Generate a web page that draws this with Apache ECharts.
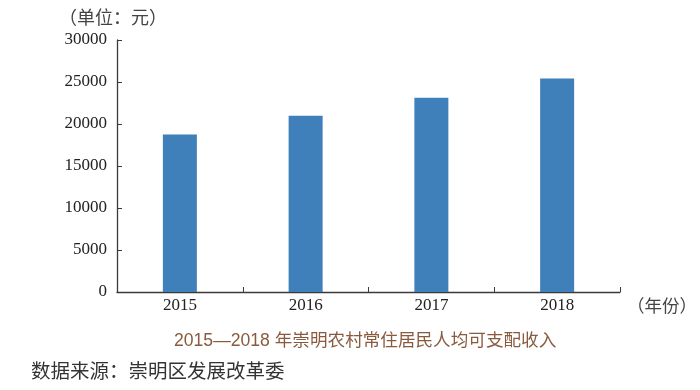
<!DOCTYPE html>
<html><head><meta charset="utf-8">
<script src="https://cdn.jsdelivr.net/npm/echarts@6/dist/echarts.min.js"></script>
<style>html,body{margin:0;padding:0;background:#fff}#c{width:700px;height:390px}</style>
</head><body><div id="c"></div>
<script>
const categories = ['2015', '2016', '2017', '2018'];
const incomeValues = [18760, 20980, 23120, 25430];
const yTickMin = 0, yTickMax = 30000, yTickStep = 5000;
const chartTitle = '2015—2018 年崇明农村常住居民人均可支配收入';
const sourceText = '数据来源：崇明区发展改革委';
const yUnit = '（单位：元）';
const xUnit = '（年份）';

const serif = '"Liberation Serif", "DejaVu Serif", serif';
const cjk = '"Noto Sans CJK SC", sans-serif';
const axisColor = '#3a3a3a';

const chart = echarts.init(document.getElementById('c'), null, {renderer: 'canvas'});
chart.setOption({
  animation: false,
  backgroundColor: '#ffffff',
  title: [
    {text: chartTitle, left: 169, top: 327,
     textStyle: {color: '#8a5a3e', fontSize: 17.6, fontWeight: 'normal', fontFamily: '"Liberation Sans", ' + cjk}},
    {text: sourceText, left: 26, top: 356,
     textStyle: {color: '#333333', fontSize: 19.5, fontWeight: 'normal', fontFamily: cjk}}
  ],
  grid: {left: 117, right: 80, top: 40, bottom: 98, containLabel: false},
  xAxis: {
    type: 'category', data: categories, boundaryGap: true,
    axisLine: {show: true, lineStyle: {color: axisColor, width: 1.3}},
    axisTick: {show: true, inside: true, length: 5, lineStyle: {color: axisColor}},
    axisLabel: {color: '#222', fontSize: 17, fontFamily: serif, margin: 5},
    name: xUnit, nameLocation: 'end', nameGap: 7,
    nameTextStyle: {color: '#444', fontSize: 17.5, fontFamily: cjk, verticalAlign: 'top', padding: [5, 0, 0, 0]},
    splitLine: {show: false}
  },
  yAxis: {
    type: 'value', min: yTickMin, max: yTickMax, interval: yTickStep,
    axisLine: {show: true, lineStyle: {color: axisColor, width: 1.3}},
    axisTick: {show: true, inside: true, length: 5, lineStyle: {color: axisColor}},
    axisLabel: {color: '#222', fontSize: 17, fontFamily: serif, margin: 10, formatter: v => String(v)},
    splitLine: {show: false},
    name: yUnit, nameLocation: 'end', nameGap: 14,
    nameTextStyle: {color: '#444', fontSize: 18, fontFamily: cjk, align: 'center', padding: [0, 8, 0, 0]}
  },
  series: [{
    type: 'bar', data: incomeValues, barWidth: 34,
    itemStyle: {color: '#3f7fba'}
  }]
});
</script></body></html>
